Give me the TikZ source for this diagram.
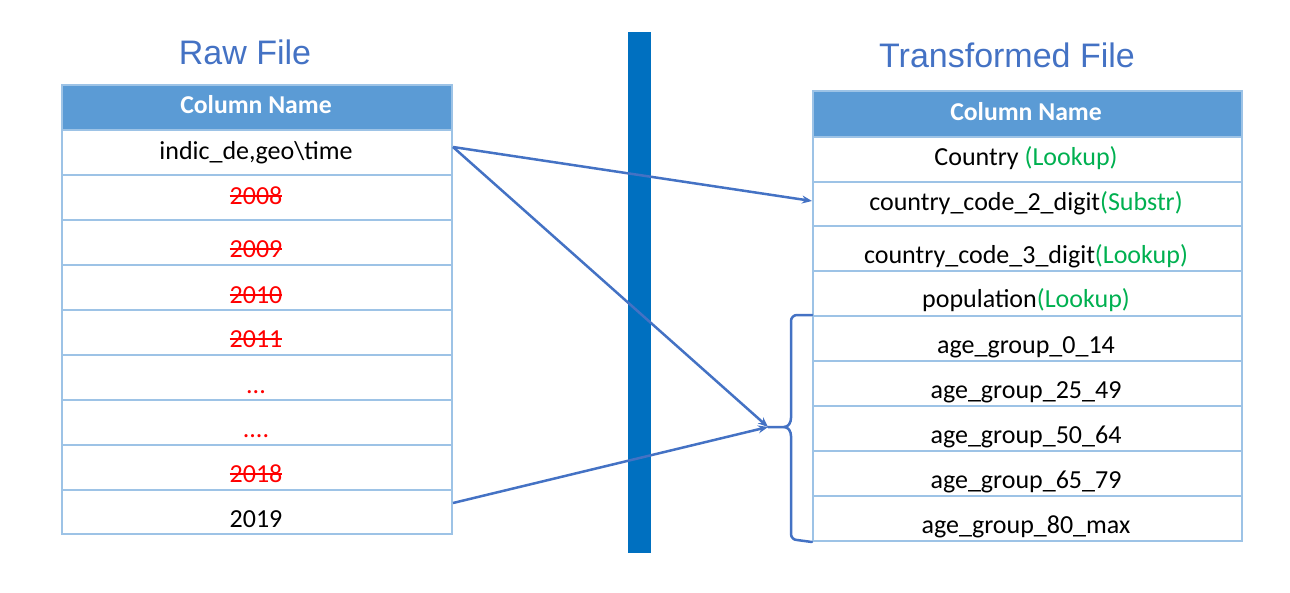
\documentclass[tikz,border=0pt]{standalone}
\usepackage{fontspec}
\setmainfont{Carlito}
\newfontfamily\titlefont{Liberation Sans}
\usetikzlibrary{arrows.meta}
\definecolor{titleblue}{HTML}{4472C4}
\definecolor{headblue}{HTML}{5B9BD5}
\definecolor{gridblue}{HTML}{9DC3E6}
\definecolor{barblue}{HTML}{0070C0}
\definecolor{arrowblue}{HTML}{4472C4}
\definecolor{lookgreen}{HTML}{00B050}
\definecolor{strikered}{HTML}{FF0000}
\newlength{\gonelen}
\newcommand{\gone}[1]{\settowidth{\gonelen}{#1}\textcolor{strikered}{\rlap{#1}\rule[0.26em]{\gonelen}{2pt}}}
\newcommand{\how}[1]{\textcolor{lookgreen}{#1}}
\begin{document}
\begin{tikzpicture}[x=1pt,y=-1pt,
  cellL/.style={draw=gridblue, line width=2pt, minimum width=390pt, minimum height=45pt, anchor=north west, inner sep=0pt},
  cellR/.style={draw=gridblue, line width=2pt, minimum width=429pt, minimum height=45pt, anchor=north west, inner sep=0pt},
  headcell/.style={fill=headblue},
  txt/.style={inner sep=0pt, anchor=base, font=\fontsize{26}{31}\selectfont},
  headtxt/.style={txt, text=white, font=\fontsize{25.7}{31}\selectfont\bfseries},
  titletxt/.style={inner sep=0pt, anchor=base, text=titleblue, font=\titlefont\fontsize{34}{40}\selectfont},
  link/.style={draw=arrowblue, line width=2.5pt},
  linkarrow/.style={link, -{Stealth[length=10pt,width=8pt]}},
]
\useasboundingbox (0,0) rectangle (1290,592);

% divider bar
\fill[barblue] (628,32) rectangle (651,553);

% titles
\node[titletxt] (rawtitle) at (245,64) {Raw File};
\node[titletxt] (trtitle) at (1007,67) {Transformed File};

% left table cells
\node[cellL, headcell, minimum height=45pt] (l0) at (61,84) {};
\node[cellL] (l1) at (61,129) {};
\node[cellL] (l2) at (61,174) {};
\node[cellL] (l3) at (61,219) {};
\node[cellL] (l4) at (61,264) {};
\node[cellL] (l5) at (61,309) {};
\node[cellL] (l6) at (61,354) {};
\node[cellL] (l7) at (61,399) {};
\node[cellL] (l8) at (61,444) {};
\node[cellL, minimum height=44pt] (l9) at (61,489) {};

% left table texts
\node[headtxt] (lt0) at (256,113) {Column Name};
\node[txt] (lt1) at (256,159) {indic\_de,geo\textbackslash time};
\node[txt] (lt2) at (256,204) {\gone{2008}};
\node[txt] (lt3) at (256,257) {\gone{2009}};
\node[txt] (lt4) at (256,303) {\gone{2010}};
\node[txt] (lt5) at (256,347) {\gone{2011}};
\node[txt, text=strikered] (lt6) at (256,393) {...};
\node[txt, text=strikered] (lt7) at (256,437) {....};
\node[txt] (lt8) at (256,482) {\gone{2018}};
\node[txt] (lt9) at (256,527) {2019};

% right table cells
\node[cellR, headcell, minimum height=46pt] (r0) at (812,90) {};
\node[cellR] (r1) at (812,136) {};
\node[cellR, minimum height=44pt] (r2) at (812,181) {};
\node[cellR] (r3) at (812,225) {};
\node[cellR] (r4) at (812,270) {};
\node[cellR] (r5) at (812,315) {};
\node[cellR] (r6) at (812,360) {};
\node[cellR] (r7) at (812,405) {};
\node[cellR] (r8) at (812,450) {};
\node[cellR] (r9) at (812,495) {};

% right table texts
\node[headtxt] (rt0) at (1026,120) {Column Name};
\node[txt] (rt1) at (1026,165) {Country \how{(Lookup)}};
\node[txt] (rt2) at (1026,210) {country\_code\_2\_digit\how{(Substr)}};
\node[txt] (rt3) at (1026,263) {country\_code\_3\_digit\how{(Lookup)}};
\node[txt] (rt4) at (1026,307) {population\how{(Lookup)}};
\node[txt] (rt5) at (1026,353) {age\_group\_0\_14};
\node[txt] (rt6) at (1026,398) {age\_group\_25\_49};
\node[txt] (rt7) at (1026,443) {age\_group\_50\_64};
\node[txt] (rt8) at (1026,488) {age\_group\_65\_79};
\node[txt] (rt9) at (1026,533) {age\_group\_80\_max};

% brace
\coordinate (bracetip) at (768,427);
\draw[link, line cap=round, line join=round]
  (r5.north west) -- (797,315) to[out=180,in=90] (791,321) -- (791,418)
  to[out=270,in=0] (784,427) -- (bracetip);
\draw[link, line cap=round, line join=round]
  (r9.south west) -- (797,540) to[out=180,in=270] (791,534) -- (791,436)
  to[out=90,in=0] (784,427);

% connectors
\draw[linkarrow] ([yshift=5.5pt]l1.east) -- ([yshift=3pt]r2.west);
\draw[linkarrow] ([yshift=5.5pt]l1.east) -- (bracetip);
\draw[linkarrow] ([yshift=9pt]l9.east) -- (bracetip);
\end{tikzpicture}
\end{document}
